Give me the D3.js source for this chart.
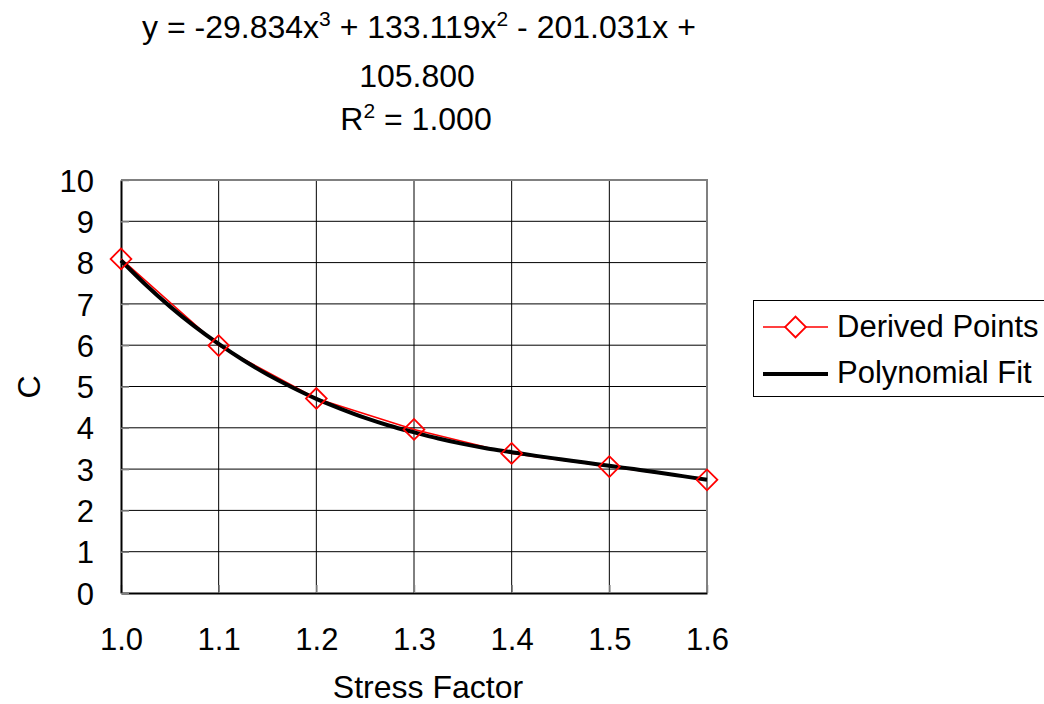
<!DOCTYPE html>
<html>
<head>
<meta charset="utf-8">
<script src="https://cdn.jsdelivr.net/npm/d3@7"></script>
<style>
  body { margin: 0; background: #fff; }
  text { font-family: "Liberation Sans", Arial, sans-serif; fill: #000; }
</style>
</head>
<body>
<div id="chart"></div>
<script>
// data
var xTicks = [1.0, 1.1, 1.2, 1.3, 1.4, 1.5, 1.6];
var yTicks = [0, 1, 2, 3, 4, 5, 6, 7, 8, 9, 10];

var derivedX = [1.0, 1.1, 1.2, 1.3, 1.4, 1.5, 1.6];
var derivedY = [8.09, 5.99, 4.71, 3.96, 3.38, 3.06, 2.74];

var fitX = [1.0, 1.025, 1.05, 1.075, 1.1, 1.125, 1.15, 1.175, 1.2, 1.225, 1.25, 1.275, 1.3,
            1.325, 1.35, 1.375, 1.4, 1.425, 1.45, 1.475, 1.5, 1.525, 1.55, 1.575, 1.6];
var fitY = [8.05, 7.47, 6.94, 6.46, 6.03, 5.64, 5.29, 4.98, 4.70, 4.46, 4.24, 4.05, 3.89,
            3.74, 3.61, 3.50, 3.41, 3.32, 3.24, 3.16, 3.08, 3.00, 2.92, 2.83, 2.74];

var svgWidth = 1044;
var svgHeight = 704;

var margin = { top: 180, left: 121, right: 337, bottom: 111 };
var width = svgWidth - margin.left - margin.right;
var height = svgHeight - margin.top - margin.bottom;

var svg = d3.select("#chart")
    .append("svg")
    .attr("width", svgWidth)
    .attr("height", svgHeight);

var chartGroup = svg.append("g")
    .attr("transform", `translate(${margin.left},${margin.top})`);

var xScale = d3.scaleLinear().domain([1.0, 1.6]).range([0, width]);
var yScale = d3.scaleLinear().domain([0, 10]).range([height, 0]);

// gridlines
chartGroup.append("g")
    .selectAll("line").data(yTicks.slice(1, -1)).enter()
    .append("line")
    .attr("x1", 0).attr("x2", width)
    .attr("y1", d => yScale(d)).attr("y2", d => yScale(d))
    .attr("stroke", "#000").attr("stroke-width", 1);

chartGroup.append("g")
    .selectAll("line").data(xTicks.slice(1, -1)).enter()
    .append("line")
    .attr("y1", 0).attr("y2", height)
    .attr("x1", d => xScale(d)).attr("x2", d => xScale(d))
    .attr("stroke", "#000").attr("stroke-width", 1);

// top/right border in grey
chartGroup.append("path")
    .attr("d", `M0,0H${width}V${height}`)
    .attr("fill", "none").attr("stroke", "#808080").attr("stroke-width", 2);

// axes
var bottomAxis = d3.axisBottom(xScale).tickValues(xTicks).tickFormat(d3.format(".1f"))
    .tickSizeInner(-8).tickSizeOuter(0).tickPadding(35);
var leftAxis = d3.axisLeft(yScale).tickValues(yTicks).tickFormat(d3.format("d"))
    .tickSizeInner(-8).tickSizeOuter(0).tickPadding(27);

var xAxisG = chartGroup.append("g")
    .attr("transform", `translate(0, ${height})`)
    .call(bottomAxis);
var yAxisG = chartGroup.append("g").call(leftAxis);

[xAxisG, yAxisG].forEach(function (g) {
    g.select(".domain").attr("stroke", "#000").attr("stroke-width", 2);
    g.selectAll(".tick line").attr("stroke", "#808080").attr("stroke-width", 1.5);
    g.selectAll(".tick text")
        .style("font-size", "31px")
        .style("font-family", "'Liberation Sans', Arial, sans-serif")
        .attr("fill", "#000");
});
yAxisG.selectAll(".tick text").attr("dy", "0.36em");
xAxisG.selectAll(".tick text").attr("dy", "0.71em");

// series
var derived = derivedX.map((x, i) => [x, derivedY[i]]);
var fit = fitX.map((x, i) => [x, fitY[i]]);

var line = d3.line()
    .x(d => xScale(d[0]))
    .y(d => yScale(d[1]));

chartGroup.append("path")
    .datum(derived)
    .attr("d", line)
    .attr("fill", "none")
    .attr("stroke", "#ff0000")
    .attr("stroke-width", 1.5);

chartGroup.append("path")
    .datum(fit)
    .attr("d", line.curve(d3.curveCatmullRom))
    .attr("fill", "none")
    .attr("stroke", "#000")
    .attr("stroke-width", 4)
    .attr("stroke-linejoin", "round");

var diamond = d3.symbol().type(d3.symbolSquare).size(215);

chartGroup.selectAll(".pt")
    .data(derived).enter()
    .append("path")
    .attr("class", "pt")
    .attr("d", diamond)
    .attr("transform", d => `translate(${xScale(d[0])},${yScale(d[1])}) rotate(45)`)
    .attr("fill", "none")
    .attr("stroke", "#ff0000")
    .attr("stroke-width", 1.8);

// axis labels
svg.append("text")
    .attr("x", 428).attr("y", 698)
    .attr("text-anchor", "middle")
    .style("font-size", "32px")
    .text("Stress Factor");

svg.append("text")
    .attr("transform", "translate(40, 387) rotate(-90)")
    .attr("text-anchor", "middle")
    .style("font-size", "32px")
    .text("C");

// trendline equation
var eq = svg.append("text")
    .attr("x", 419).attr("y", 38)
    .attr("text-anchor", "middle")
    .style("font-size", "32px");
eq.append("tspan").text("y = -29.834x");
eq.append("tspan").attr("dy", -12).style("font-size", "21px").text("3");
eq.append("tspan").attr("dy", 12).text(" + 133.119x");
eq.append("tspan").attr("dy", -12).style("font-size", "21px").text("2");
eq.append("tspan").attr("dy", 12).text(" - 201.031x +");

svg.append("text")
    .attr("x", 417).attr("y", 87)
    .attr("text-anchor", "middle")
    .style("font-size", "32px")
    .text("105.800");

var r2 = svg.append("text")
    .attr("x", 416).attr("y", 130)
    .attr("text-anchor", "middle")
    .style("font-size", "32px");
r2.append("tspan").text("R");
r2.append("tspan").attr("dy", -12).style("font-size", "21px").text("2");
r2.append("tspan").attr("dy", 12).text(" = 1.000");

// legend
var legend = svg.append("g");
legend.append("rect")
    .attr("x", 753.5).attr("y", 300.5)
    .attr("width", 300).attr("height", 96)
    .attr("fill", "#fff").attr("stroke", "#000").attr("stroke-width", 1);

legend.append("line")
    .attr("x1", 763).attr("x2", 828).attr("y1", 327).attr("y2", 327)
    .attr("stroke", "#ff0000").attr("stroke-width", 1.5);
legend.append("path")
    .attr("d", diamond)
    .attr("transform", "translate(795.5,327) rotate(45)")
    .attr("fill", "#fff").attr("stroke", "#ff0000").attr("stroke-width", 1.8);
legend.append("text")
    .attr("x", 837).attr("y", 337)
    .style("font-size", "31px")
    .text("Derived Points");

legend.append("line")
    .attr("x1", 763).attr("x2", 828).attr("y1", 374).attr("y2", 374)
    .attr("stroke", "#000").attr("stroke-width", 4);
legend.append("text")
    .attr("x", 837).attr("y", 383)
    .style("font-size", "31px")
    .text("Polynomial Fit");
</script>
</body>
</html>
